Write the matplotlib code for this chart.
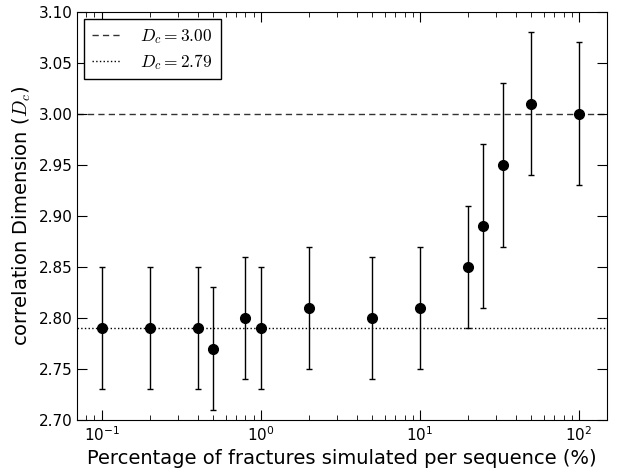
import matplotlib
matplotlib.use("Agg")
import matplotlib.pyplot as plt

plt.rcParams["mathtext.fontset"] = "cm"
plt.rcParams["xtick.direction"] = "in"
plt.rcParams["ytick.direction"] = "in"

# percentage of fractures simulated per sequence
pct = [0.1, 0.2, 0.4, 0.5, 0.8, 1.0, 2.0, 5.0, 10.0, 20.0, 25.0, 33.3, 50.0, 100.0]
dc = [2.79, 2.79, 2.79, 2.77, 2.80, 2.79, 2.81, 2.80, 2.81, 2.85, 2.89, 2.95, 3.01, 3.00]
dc_err = [0.06, 0.06, 0.06, 0.06, 0.06, 0.06, 0.06, 0.06, 0.06, 0.06, 0.08, 0.08, 0.07, 0.07]

ref_hi = 3.00
ref_lo = 2.79

fig = plt.figure(figsize=(6.17, 4.73), dpi=100)
ax = fig.add_axes([0.125, 0.112, 0.859, 0.863])

ax.axhline(ref_hi, color="k", ls="--", lw=1.0, dashes=(4.5, 3), alpha=0.8,
           label=r"$D_c = 3.00$")
ax.axhline(ref_lo, color="k", ls=":", lw=1.0, label=r"$D_c = 2.79$")
ax.errorbar(pct, dc, yerr=dc_err, fmt="o", color="k", ms=7, capsize=2.5,
            elinewidth=1.0, capthick=1.0)

ax.set_xscale("log")
ax.set_xlim(0.07, 150)
ax.set_ylim(2.70, 3.10)
ax.set_yticks([2.70, 2.75, 2.80, 2.85, 2.90, 2.95, 3.00, 3.05, 3.10])
ax.tick_params(which="both", top=True, right=True, labelsize=11)
ax.tick_params(which="major", length=7)
ax.tick_params(which="minor", length=3.5)
ax.set_xlabel("Percentage of fractures simulated per sequence (%)", fontsize=14)
ax.set_ylabel(r"correlation Dimension ($D_c$)", fontsize=14)

leg = ax.legend(loc="upper left", fontsize=12.5, fancybox=False, handlelength=1.6,
                handletextpad=1.2, borderpad=0.45, labelspacing=0.35,
                borderaxespad=0.4)
leg.get_frame().set_edgecolor("k")
leg.get_frame().set_alpha(1)

fig.savefig("out.png", dpi=100)
